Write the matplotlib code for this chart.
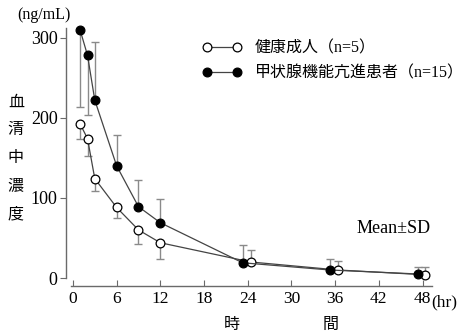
import matplotlib
matplotlib.use("Agg")
import matplotlib.pyplot as plt

# Serum concentration after dosing, mean with one-sided SD bars
HOURS_HEALTHY = [1, 2, 3, 6, 9, 12, 24.4, 36.4, 48.4]
CONC_HEALTHY = [192, 174, 124, 88, 60, 44, 20, 10, 4]
SD_HEALTHY = [18, 22, 15, 13, 17, 20, 15, 11, 10]
SD_DIR_HEALTHY = [-1, -1, -1, -1, -1, -1, 1, 1, 1]

HOURS_HYPER = [1, 2, 3, 6, 9, 12, 23.3, 35.3, 47.4]
CONC_HYPER = [309, 278, 222, 140, 89, 69, 19, 10, 5]
SD_HYPER = [95, 75, 72, 38, 33, 30, 22, 14, 9]
SD_DIR_HYPER = [-1, -1, 1, 1, 1, 1, 1, 1, 1]

X_TICKS = [0, 6, 12, 18, 24, 30, 36, 42, 48]
Y_TICKS = [0, 100, 200, 300]

LABEL_HEALTHY = "健康成人（n=5）"
LABEL_HYPER = "甲状腺機能亢進患者（n=15）"

FONTS = ["Liberation Serif", "Noto Sans CJK JP"]
LINE = "#444444"
BAR = "#8a8a8a"
AXIS = "#6a6a6a"

fig = plt.figure(figsize=(4.66, 3.36), dpi=100)
ax = fig.add_axes([0.1534, 0.1726, 0.7736, 0.744])


def draw_series(hours, conc, sd, sd_dir, face, label):
    lower = [s if d < 0 else 0 for s, d in zip(sd, sd_dir)]
    upper = [s if d > 0 else 0 for s, d in zip(sd, sd_dir)]
    ax.errorbar(hours, conc, yerr=[lower, upper], fmt="none", ecolor=BAR,
                elinewidth=1.0, capsize=3, capthick=1.0, clip_on=False, zorder=2)
    ax.plot(hours, conc, "-", color=LINE, lw=0.9, marker="o", ms=6.3,
            mfc=face, mec="black", mew=0.9, clip_on=False, zorder=3, label=label)


draw_series(HOURS_HEALTHY, CONC_HEALTHY, SD_HEALTHY, SD_DIR_HEALTHY, "white", LABEL_HEALTHY)
draw_series(HOURS_HYPER, CONC_HYPER, SD_HYPER, SD_DIR_HYPER, "black", LABEL_HYPER)

ax.set_xlim(-0.2, 49.3)
ax.set_ylim(0, 312)
ax.set_xticks(X_TICKS)
ax.set_yticks(Y_TICKS)

for side in ("top", "right"):
    ax.spines[side].set_visible(False)
ax.spines["left"].set_position(("outward", 4))
ax.spines["bottom"].set_position(("outward", 6))
for side in ("left", "bottom"):
    ax.spines[side].set_color(AXIS)
    ax.spines[side].set_linewidth(1.0)
ax.tick_params(axis="x", direction="in", length=4, color=AXIS, pad=3)
ax.tick_params(axis="y", direction="out", length=4, color=AXIS, pad=2)
for lab in ax.get_xticklabels():
    lab.set_family(FONTS)
    lab.set_fontsize(12.5)
for lab in ax.get_yticklabels():
    lab.set_family(FONTS)
    lab.set_fontsize(13)

ax.legend(loc="upper left", bbox_to_anchor=(0.345, 0.975), frameon=False,
          prop={"family": FONTS, "size": 11.5}, numpoints=2, handlelength=2.5,
          handletextpad=0.8, labelspacing=0.55, borderaxespad=0)

fig.text(0.036, 0.955, "(ng/mL)", family=FONTS, fontsize=11.5, ha="left", va="center")
for i, ch in enumerate("血清中濃度"):
    fig.text(0.034, 0.695 - i * 0.083, ch, family=FONTS, fontsize=11.5,
             ha="center", va="center")
fig.text(0.497, 0.033, "時", family=FONTS, fontsize=11.5, ha="center", va="center")
fig.text(0.71, 0.033, "間", family=FONTS, fontsize=11.5, ha="center", va="center")
fig.text(0.925, 0.101, "(hr)", family=FONTS, fontsize=12.5, ha="left", va="center")
fig.text(0.845, 0.321, "Mean±SD", family=FONTS, fontsize=13, ha="center", va="center")

fig.savefig("out.png", dpi=100)
